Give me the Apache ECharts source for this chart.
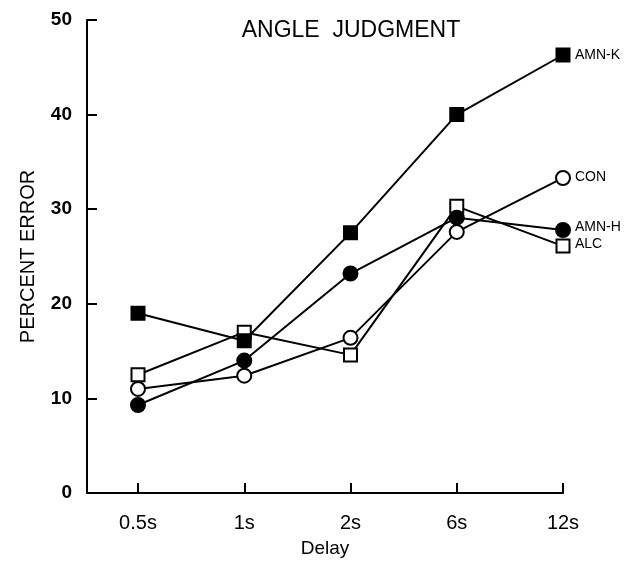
<!DOCTYPE html>
<html><head><meta charset="utf-8">
<script src="https://cdn.jsdelivr.net/npm/echarts@6/dist/echarts.min.js"></script>
<style>html,body{margin:0;padding:0;background:#fff}#c{width:631px;height:561px}</style>
</head><body><div id="c"></div>
<script>
var categories = ['0.5s', '1s', '2s', '6s', '12s'];
var amnK = [19.0, 16.1, 27.5, 40.0, 46.3];
var amnH = [9.3, 14.0, 23.2, 29.1, 27.8];
var con = [11.0, 12.4, 16.4, 27.6, 33.3];
var alc = [12.5, 17.0, 14.6, 30.3, 26.1];
var yTicks = [0, 10, 20, 30, 40, 50];

var FONT = '"Liberation Sans", Arial, sans-serif';
function pts(arr) { return arr.map(function (v, i) { return [i, v]; }); }
function mk(name, data, symbol, filled, labelOffset) {
  return {
    name: name, type: 'line', data: pts(data), symbol: symbol, symbolSize: symbol === 'rect' ? 13 : 14,
    lineStyle: { color: '#000', width: 2 },
    itemStyle: { color: filled ? '#000' : '#fff', borderColor: '#000', borderWidth: 2 },
    z: filled ? 3 : 2,
    endLabel: { show: true, formatter: name, color: '#000', fontFamily: FONT, fontSize: 14, offset: labelOffset || [0, 0], distance: 12 }
  };
}
var chart = echarts.init(document.getElementById('c'));
chart.setOption({
  animation: false,
  title: { text: 'ANGLE  JUDGMENT', left: 346, top: 14, textAlign: 'center',
    textStyle: { fontFamily: FONT, fontSize: 23, fontWeight: 'normal', color: '#000' } },
  grid: { left: 87, right: 68, top: 20, bottom: 68, outerBoundsMode: 'none', containLabel: false },
  xAxis: {
    type: 'value', min: -0.48, max: 4,
    name: 'Delay', nameLocation: 'middle', nameGap: 46,
    nameTextStyle: { fontFamily: FONT, fontSize: 19, color: '#000' },
    axisLine: { lineStyle: { color: '#000', width: 2 } },
    axisTick: { inside: true, length: 10, lineStyle: { color: '#000', width: 2 }, customValues: [0, 1, 2, 3, 4] },
    axisLabel: { customValues: [0, 1, 2, 3, 4], formatter: function (v) { return categories[Math.round(v)]; },
      fontFamily: FONT, fontSize: 20, color: '#000', margin: 20 },
    splitLine: { show: false }
  },
  yAxis: {
    type: 'value', min: 0, max: 50, interval: 10,
    name: 'PERCENT ERROR', nameLocation: 'middle', nameGap: 49,
    nameTextStyle: { fontFamily: FONT, fontSize: 20, color: '#000' },
    axisLine: { show: true, onZero: false, lineStyle: { color: '#000', width: 2 } },
    axisTick: { show: true, inside: true, length: 10, lineStyle: { color: '#000', width: 2 } },
    axisLabel: { fontFamily: FONT, fontSize: 19, fontWeight: 'bold', color: '#000', margin: 15,
      formatter: function (v) { return yTicks.indexOf(v) >= 0 ? String(v) : ''; } },
    splitLine: { show: false }
  },
  series: [
    mk('CON', con, 'circle', false, [0, -1]),
    mk('ALC', alc, 'rect', false, [0, -2]),
    mk('AMN-H', amnH, 'circle', true, [0, -3]),
    mk('AMN-K', amnK, 'rect', true, [0, 0])
  ]
});
</script></body></html>
